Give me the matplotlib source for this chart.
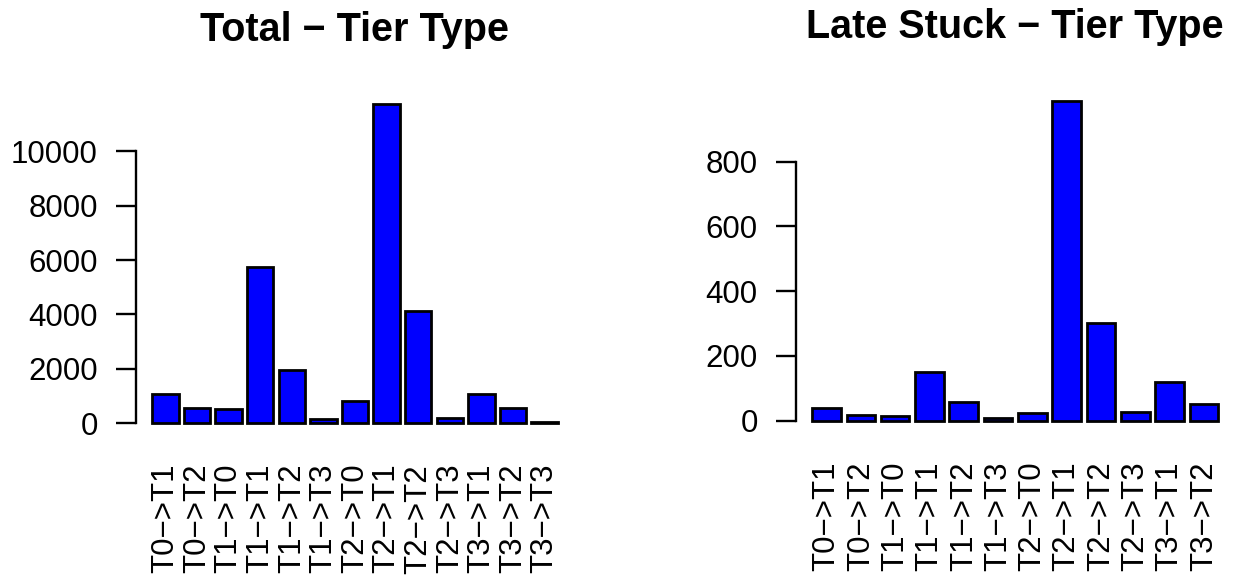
import matplotlib

matplotlib.use("Agg")
import matplotlib.pyplot as plt
import numpy as np

plt.rcParams["font.family"] = ["Liberation Sans", "DejaVu Sans"]

# tier transition counts
total_labels = ["T0\u2212>T1", "T0\u2212>T2", "T1\u2212>T0", "T1\u2212>T1", "T1\u2212>T2",
                "T1\u2212>T3", "T2\u2212>T0", "T2\u2212>T1", "T2\u2212>T2", "T2\u2212>T3",
                "T3\u2212>T1", "T3\u2212>T2", "T3\u2212>T3"]
total_counts = [1070, 550, 530, 5730, 1960, 150, 830, 11750, 4110, 210, 1070, 550, 40]

late_labels = total_labels[:12]
late_counts = [38, 17, 15, 151, 56, 8, 23, 988, 302, 26, 118, 51]

total_yticks = [0, 2000, 4000, 6000, 8000, 10000]
late_yticks = [0, 200, 400, 600, 800]

W, H = 1242, 579
fig = plt.figure(figsize=(W / 100, H / 100), dpi=100)


def px_axes(left, top, right, bottom):
    return fig.add_axes([left / W, 1 - bottom / H, (right - left) / W, (bottom - top) / H])


def r_barplot(ax, labels, counts, yticks, title):
    # base-R style barplot: width 1, space 0.2, 4% axis padding
    n = len(counts)
    centers = 0.7 + 1.2 * np.arange(n)
    ax.bar(centers, counts, width=1.0, color="#0000ff", edgecolor="black",
           linewidth=2.0)
    lo, hi = 0.2, 1.2 * n
    ext = 0.04 * (hi - lo)
    ax.set_xlim(lo - ext, hi + ext)
    top = max(counts)
    ax.set_ylim(-0.04 * top, 1.04 * top)

    for side in ("top", "right", "bottom"):
        ax.spines[side].set_visible(False)
    ax.spines["left"].set_bounds(yticks[0], yticks[-1])
    ax.spines["left"].set_linewidth(1.7)
    ax.set_yticks(yticks)
    ax.set_yticklabels([str(t) for t in yticks])
    ax.tick_params(axis="y", length=14.5, width=1.7, pad=13, labelsize=22.5)

    ax.set_xticks(centers)
    ax.set_xticklabels(labels, rotation=90)
    ax.tick_params(axis="x", length=0, pad=20, labelsize=22.5)

    ax.set_title(title, fontsize=28.5, fontweight="bold", pad=36)


ax1 = px_axes(136, 91, 574, 436)
r_barplot(ax1, total_labels, total_counts, total_yticks, "Total \u2212 Tier Type")

ax2 = px_axes(796, 88, 1234.5, 433.4)
r_barplot(ax2, late_labels, late_counts, late_yticks, "Late Stuck \u2212 Tier Type")

fig.savefig("out.png", dpi=100)
